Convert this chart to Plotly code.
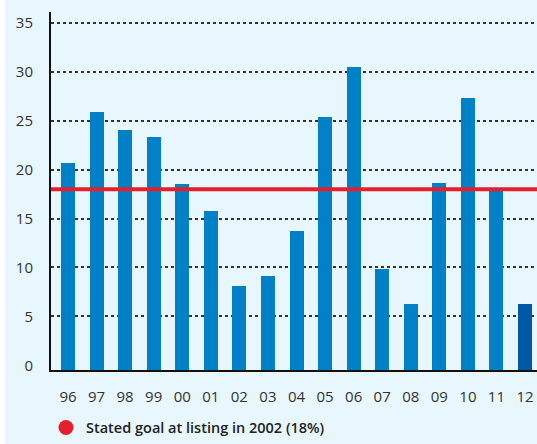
import plotly.graph_objects as go

years = ["96", "97", "98", "99", "00", "01", "02", "03", "04", "05", "06", "07", "08", "09", "10", "11", "12"]
values = [20.7, 25.9, 24.0, 23.3, 18.5, 15.8, 8.1, 9.1, 13.7, 25.4, 30.5, 9.8, 6.3, 18.6, 27.3, 18.0, 6.3]
goal = 18
goal_label = "Stated goal at listing in 2002 (18%)"
y_ticks = [0, 5, 10, 15, 20, 25, 30, 35]
grid_vals = [5, 10, 15, 20, 25, 30, 35]

BG = "#e8f6fd"
BAR = "#0080c6"
BAR_LAST = "#0059a6"
RED = "#e5202c"

W, H = 537, 444
ML, MR, MT, MB = 51, 0, 12, 71
pw = W - ML - MR

ymin = -0.48
colors = [BAR] * (len(years) - 1) + [BAR_LAST]
xs = list(range(len(years)))

fig = go.Figure()
fig.add_trace(go.Bar(
    x=xs, y=[v - ymin for v in values], base=ymin,
    marker=dict(color=colors, line=dict(width=0)),
    width=0.49, showlegend=False, hoverinfo="skip",
))
fig.add_hline(y=goal, line=dict(color=RED, width=4), layer="above")
fig.add_trace(go.Scatter(
    x=[None], y=[None], mode="markers",
    marker=dict(color=RED, size=15, symbol="circle"),
    name=goal_label, showlegend=True,
))

fig.add_shape(type="rect", xref="paper", yref="paper",
              x0=-ML / pw, x1=-(ML - 5) / pw, y0=-1, y1=2,
              fillcolor="white", line=dict(width=0), layer="below")

fig.update_layout(
    width=W, height=H,
    margin=dict(l=ML, r=MR, t=MT, b=MB, pad=0),
    paper_bgcolor=BG, plot_bgcolor=BG,
    font=dict(family="Open Sans", size=15, color="#333333"),
    bargap=0,
    legend=dict(
        orientation="h", x=(46 - ML) / pw, xanchor="left",
        y=-(431 - 373) / (H - MT - MB), yanchor="middle",
        bgcolor="rgba(0,0,0,0)",
        font=dict(family="Open Sans", size=14.5, color="#222222", weight=600),
        itemsizing="trace",
    ),
    xaxis=dict(
        range=[-0.595, 16.42],
        tickmode="array", tickvals=xs, ticktext=years,
        showgrid=False, zeroline=False,
        showline=True, linecolor="#111111", linewidth=2,
        ticks="outside", ticklen=12, tickcolor="rgba(0,0,0,0)",
        tickfont=dict(size=15, color="#333333"),
        fixedrange=True,
    ),
    yaxis=dict(
        range=[ymin, 36.1],
        tickmode="array", tickvals=y_ticks,
        showgrid=False,
        minor=dict(tickmode="array", tickvals=grid_vals, showgrid=True,
                   gridcolor="#333333", gridwidth=1.5, griddash="dot", ticks=""),
        zeroline=False,
        showline=True, linecolor="#111111", linewidth=2,
        ticks="outside", ticklen=13, tickcolor="rgba(0,0,0,0)",
        tickfont=dict(size=15, color="#333333"),
        fixedrange=True,
    ),
)

fig.write_html(
    "out.html",
    config={"displayModeBar": False},
    post_script="document.body.style.margin='0';document.body.style.overflow='hidden';",
)
